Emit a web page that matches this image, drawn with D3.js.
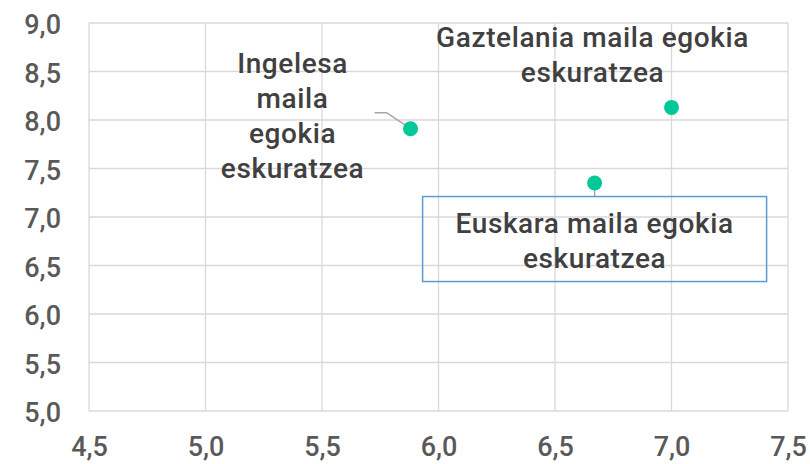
<!DOCTYPE html>
<html>
<head>
<meta charset="utf-8">
<script src="https://cdn.jsdelivr.net/npm/d3@7"></script>
<style>
  body { margin: 0; background: #fff; }
  svg text { font-family: Roboto, "Noto Sans", sans-serif; font-weight: 500; }
</style>
</head>
<body>
<div id="chart"></div>
<script>
// data
const names = ["Ingelesa maila egokia eskuratzea",
               "Gaztelania maila egokia eskuratzea",
               "Euskara maila egokia eskuratzea"];
const xValues = [5.88, 7.0, 6.67];
const yValues = [7.91, 8.13, 7.35];
const xTicks = [4.5, 5.0, 5.5, 6.0, 6.5, 7.0, 7.5];
const yTicks = [5.0, 5.5, 6.0, 6.5, 7.0, 7.5, 8.0, 8.5, 9.0];

// how each label is broken
const labelLines = [
  ["Ingelesa", "maila", "egokia", "eskuratzea"],
  ["Gaztelania maila egokia", "eskuratzea"],
  ["Euskara maila egokia", "eskuratzea"]
];

const width = 810, height = 464;
const margin = {top: 23, right: 22, bottom: 53, left: 89};

const svg = d3.select("#chart").append("svg")
    .attr("width", width)
    .attr("height", height);

const x = d3.scaleLinear().domain([4.5, 7.5]).range([margin.left, width - margin.right]);
const y = d3.scaleLinear().domain([5.0, 9.0]).range([height - margin.bottom, margin.top]);
const fmt = d => d3.format(".1f")(d).replace(".", ",");

// grid
svg.append("g").selectAll("line").data(xTicks).enter().append("line")
    .attr("x1", d => x(d)).attr("x2", d => x(d))
    .attr("y1", y(9.0)).attr("y2", y(5.0))
    .attr("stroke", "#d9d9d9").attr("stroke-width", 1.3);
svg.append("g").selectAll("line").data(yTicks).enter().append("line")
    .attr("x1", x(4.5)).attr("x2", x(7.5))
    .attr("y1", d => y(d)).attr("y2", d => y(d))
    .attr("stroke", "#d9d9d9").attr("stroke-width", 1.3);

// axes (labels only, domain lines hidden)
const yAxis = svg.append("g")
    .attr("transform", `translate(${margin.left - 28},0)`)
    .call(d3.axisLeft(y).tickValues(yTicks).tickFormat(fmt).tickSize(0).tickPadding(0));
yAxis.select(".domain").remove();
yAxis.selectAll("text")
    .attr("fill", "#595959").style("font-size", "27px").attr("dy", "0.4em");

const xAxis = svg.append("g")
    .attr("transform", `translate(0,${height - margin.bottom + 25})`)
    .call(d3.axisBottom(x).tickValues(xTicks).tickFormat(fmt).tickSize(0).tickPadding(0));
xAxis.select(".domain").remove();
xAxis.selectAll("text")
    .attr("fill", "#595959").style("font-size", "27px").attr("dy", "0.75em");

const pts = names.map((n, i) => ({name: n, x: xValues[i], y: yValues[i], lines: labelLines[i]}));

// leader lines
const ing = pts[0], eus = pts[2];
svg.append("path")
    .attr("d", `M${x(ing.x) - 36},${y(ing.y) - 16} h12 L${x(ing.x)},${y(ing.y)}`)
    .attr("fill", "none").attr("stroke", "#a6a6a6").attr("stroke-width", 1.5);
svg.append("line")
    .attr("x1", x(eus.x)).attr("x2", x(eus.x))
    .attr("y1", y(eus.y)).attr("y2", y(eus.y) + 14)
    .attr("stroke", "#a6a6a6").attr("stroke-width", 1.5);

// box around Euskara label (no fill, grid shows through)
svg.append("rect")
    .attr("x", x(eus.x) - 172).attr("y", y(eus.y) + 13.5)
    .attr("width", 344).attr("height", 85)
    .attr("fill", "none").attr("stroke", "#5b9bd5").attr("stroke-width", 1.5);

// points
svg.append("g").selectAll("circle").data(pts).enter().append("circle")
    .attr("cx", d => x(d.x)).attr("cy", d => y(d.y))
    .attr("r", 7.5).attr("fill", "#00c896");

// labels: centre x offset and first baseline offset from the point
const offsets = [[-118, -56], [-79, -60], [0, 50]];
pts.forEach((p, i) => {
  const t = svg.append("text")
      .attr("text-anchor", "middle")
      .attr("fill", "#404040")
      .style("font-size", "28px")
      .style("letter-spacing", "0.6px");
  p.lines.forEach((ln, j) => {
    t.append("tspan")
      .attr("x", x(p.x) + offsets[i][0])
      .attr("y", y(p.y) + offsets[i][1] + j * 35)
      .text(ln);
  });
});
</script>
</body>
</html>
